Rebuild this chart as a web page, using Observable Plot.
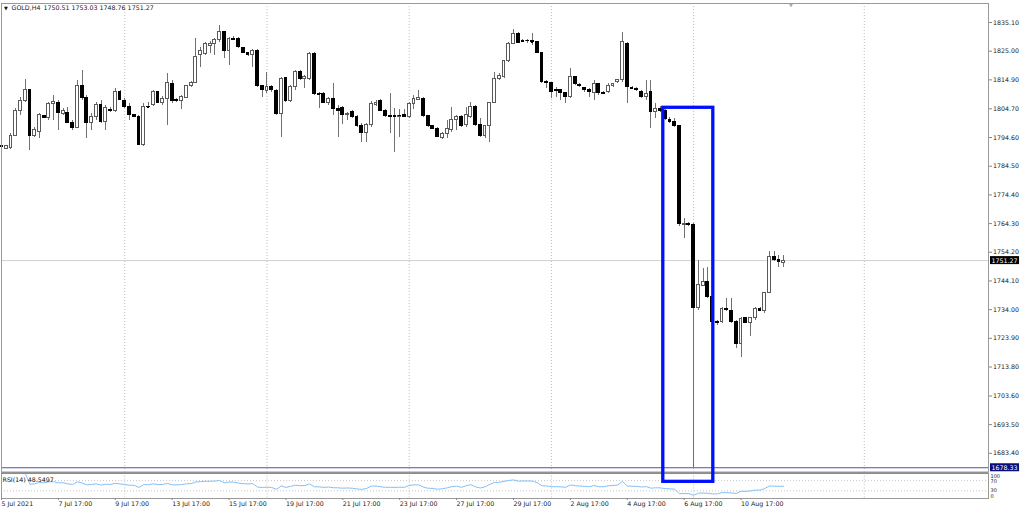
<!DOCTYPE html>
<html>
<head>
<meta charset="utf-8">
<script src="https://cdn.jsdelivr.net/npm/d3@7"></script>
<script src="https://cdn.jsdelivr.net/npm/@observablehq/plot@0.6"></script>
<style>
html, body { margin: 0; padding: 0; background: #fff; }
#chart { position: relative; width: 1024px; height: 509px; overflow: hidden; background: #fff; }
#chart svg { position: absolute; left: 0; overflow: visible; background: transparent; }
</style>
</head>
<body>
<div id="chart"></div>
<script>
// ---------------- data (GOLD, H4) ----------------
const symbolName = "GOLD,H4";
const opens = [
1791.5,1790.6,1791.0,1795.3,1804.1,1807.3,1811.5,1795.3,1796.7,1802.1,
1801.4,1806.5,1806.7,1803.0,1803.3,1799.6,1797.9,1812.6,1808.5,1799.7,
1802.0,1805.9,1800.0,1804.4,1803.9,1810.6,1807.6,1805.5,1802.4,1801.8,
1791.8,1805.5,1805.9,1810.6,1806.7,1808.2,1813.5,1807.9,1807.6,1808.6,
1812.6,1813.7,1823.5,1824.1,1827.0,1827.6,1828.8,1831.7,1825.2,1829.3,
1829.3,1826.1,1824.3,1823.7,1824.9,1812.6,1810.9,1812.3,1810.9,1803.0,
1815.5,1807.6,1812.3,1817.6,1815.3,1815.3,1824.1,1810.0,1809.8,1806.7,
1808.2,1804.7,1805.1,1802.4,1803.5,1801.8,1798.5,1796.3,1798.9,1806.2,
1807.3,1804.1,1802.1,1802.1,1802.0,1802.4,1801.8,1806.5,1807.9,1808.2,
1802.1,1798.5,1797.7,1794.5,1795.9,1797.1,1800.6,1801.8,1798.9,1801.8,
1805.5,1799.1,1795.3,1798.5,1806.7,1815.3,1815.9,1821.5,1827.6,1831.1,
1828.5,1828.5,1828.5,1828.2,1824.3,1814.3,1813.7,1811.4,1811.2,1810.2,
1808.8,1815.9,1813.2,1812.1,1811.4,1810.2,1813.5,1810.2,1810.6,1812.6,
1814.1,1814.7,1827.6,1812.1,1811.7,1810.8,1808.8,1810.6,1803.5,1804.7,
1804.1,1800.6,1800.0,1798.5,1763.7,1764.2,1763.7,1734.6,1742.2,1743.7,
1738.4,1729.6,1729.6,1734.3,1733.5,1729.6,1721.8,1731.0,1729.3,1731.0,
1734.3,1733.4,1739.9,1752.5,1751.3,1750.51];
const highs = [
1792.2,1791.8,1795.9,1804.7,1808.8,1814.9,1811.6,1798.0,1803.0,1802.4,
1807.1,1809.4,1807.6,1804.7,1805.3,1800.6,1814.7,1818.2,1809.4,1803.0,
1807.1,1807.6,1805.9,1805.3,1811.8,1811.2,1808.2,1806.5,1802.4,1802.4,
1806.5,1807.1,1811.2,1810.9,1809.1,1817.0,1814.7,1808.2,1809.4,1812.9,
1814.3,1829.3,1826.4,1828.2,1828.5,1829.3,1834.0,1831.9,1829.9,1830.2,
1829.9,1826.4,1824.6,1825.5,1825.5,1812.9,1817.6,1812.9,1811.4,1815.6,
1815.6,1812.9,1818.2,1818.2,1816.4,1824.7,1824.7,1810.6,1810.6,1808.8,
1813.7,1805.9,1805.5,1803.5,1804.1,1802.4,1799.4,1799.4,1807.4,1807.6,
1807.9,1804.4,1810.2,1804.7,1804.4,1804.4,1807.1,1809.4,1811.2,1808.6,
1802.4,1798.9,1798.0,1796.5,1800.6,1805.1,1802.4,1802.4,1805.3,1807.1,
1805.9,1801.2,1798.9,1807.1,1817.6,1817.0,1821.7,1828.2,1832.5,1831.7,
1829.0,1829.0,1831.1,1828.5,1824.7,1814.7,1814.1,1812.1,1811.4,1810.6,
1819.0,1816.1,1813.5,1812.3,1811.8,1814.7,1813.7,1810.9,1813.5,1813.7,
1815.0,1831.7,1828.2,1812.6,1812.1,1811.2,1814.7,1814.7,1806.5,1805.5,
1804.7,1801.8,1801.2,1798.8,1766.0,1764.8,1764.2,1751.3,1748.4,1748.8,
1739.0,1730.2,1734.9,1737.9,1737.9,1730.2,1731.4,1731.4,1731.4,1734.9,
1734.9,1740.2,1754.3,1754.3,1753.1,1753.03];
const lows = [
1790.8,1790.3,1790.5,1795.3,1802.4,1807.1,1790.1,1794.7,1794.2,1801.2,
1800.6,1800.6,1797.1,1802.4,1799.4,1797.1,1797.7,1807.6,1794.2,1797.1,
1800.6,1799.4,1797.1,1803.5,1803.5,1807.6,1804.7,1800.6,1801.5,1791.8,
1791.5,1804.7,1805.5,1806.5,1805.9,1798.9,1806.5,1807.0,1804.4,1808.2,
1812.3,1813.5,1819.4,1823.5,1824.1,1823.5,1828.2,1822.3,1820.0,1828.8,
1825.8,1824.1,1823.3,1819.4,1812.3,1808.8,1810.2,1810.6,1802.4,1794.7,
1807.1,1807.1,1811.2,1814.7,1811.8,1814.7,1809.4,1804.7,1806.5,1805.9,
1802.4,1794.7,1799.2,1800.6,1801.2,1798.0,1793.0,1793.0,1798.3,1805.5,
1803.9,1801.8,1795.9,1789.5,1794.7,1801.8,1801.2,1804.4,1807.6,1801.8,
1798.0,1797.3,1794.5,1793.8,1794.2,1796.5,1797.1,1798.3,1798.3,1801.2,
1798.5,1794.7,1794.2,1793.0,1806.5,1814.7,1815.3,1821.1,1827.2,1827.6,
1828.1,1827.8,1827.0,1824.1,1813.7,1811.8,1808.2,1808.8,1807.6,1806.5,
1808.2,1812.9,1812.1,1810.6,1808.8,1807.6,1809.4,1809.8,1810.0,1812.1,
1813.5,1814.1,1806.5,1811.4,1810.9,1808.2,1807.6,1797.7,1801.2,1803.5,
1800.6,1799.4,1798.3,1763.1,1759.0,1763.1,1678.3,1733.8,1742.0,1737.9,
1729.3,1728.5,1729.1,1733.2,1729.1,1720.3,1717.3,1729.1,1724.4,1730.2,
1733.2,1732.6,1739.6,1750.8,1749.0,1748.76];
const closes = [
1791.4,1791.5,1795.3,1804.1,1807.3,1811.2,1795.3,1797.1,1802.4,1801.5,
1806.5,1807.1,1803.2,1804.1,1799.8,1797.9,1812.8,1808.5,1799.7,1802.0,
1805.9,1800.0,1805.1,1803.9,1810.6,1807.9,1805.5,1802.4,1801.8,1792.0,
1805.5,1805.3,1810.6,1806.7,1808.2,1813.7,1807.6,1807.4,1808.8,1812.6,
1813.7,1823.1,1825.2,1827.4,1827.6,1828.8,1831.7,1825.2,1829.3,1829.1,
1826.4,1824.4,1823.7,1824.9,1812.9,1811.4,1812.3,1811.2,1803.0,1815.3,
1807.6,1812.3,1817.6,1815.3,1815.9,1824.1,1810.0,1809.8,1806.7,1808.2,
1804.7,1804.1,1802.4,1803.0,1801.8,1798.5,1796.3,1798.9,1806.5,1806.7,
1804.1,1802.1,1802.0,1801.9,1802.2,1801.8,1806.5,1808.2,1808.5,1802.1,
1798.5,1797.7,1794.7,1795.9,1797.7,1800.6,1801.8,1798.5,1802.4,1805.5,
1799.1,1795.3,1798.5,1806.7,1815.3,1816.1,1821.5,1827.4,1831.1,1827.8,
1828.3,1828.6,1828.2,1824.3,1814.3,1813.7,1810.8,1810.9,1810.2,1808.8,
1815.9,1813.5,1812.6,1811.4,1810.6,1813.5,1810.2,1810.0,1812.6,1813.3,
1814.7,1828.2,1812.3,1811.9,1811.2,1808.8,1810.0,1803.5,1804.7,1804.1,
1801.2,1800.4,1798.8,1764.0,1764.2,1763.7,1734.6,1742.6,1743.7,1738.4,
1729.6,1729.3,1734.3,1733.8,1729.6,1721.8,1730.8,1729.3,1731.0,1734.3,
1733.4,1739.9,1752.5,1751.3,1750.6,1751.27];

// time axis (bar index -> label)
const timeTickBars = [0, 12, 24, 36, 48, 60, 72, 84, 96, 108, 120, 132, 144, 156];
const timeTickLabels = ["5 Jul 2021", "7 Jul 17:00", "9 Jul 17:00", "13 Jul 17:00", "15 Jul 17:00",
  "19 Jul 17:00", "21 Jul 17:00", "23 Jul 17:00", "27 Jul 17:00", "29 Jul 17:00",
  "2 Aug 17:00", "4 Aug 17:00", "6 Aug 17:00", "10 Aug 17:00"];
// weekly vertical grid (bar index)
const gridBars = [26, 56, 86, 116, 146, 182];
// price scale labels
const priceTicks = [1835.10, 1825.00, 1814.90, 1804.70, 1794.60, 1784.50, 1774.40, 1764.30,
  1754.20, 1744.10, 1734.00, 1723.90, 1713.80, 1703.60, 1693.50, 1683.40];
const bidPrice = 1751.27;
const hLinePrice = 1678.33;
// highlighted area drawn over the chart (bar index from/to, price top/bottom)
const highlightFrom = [139.6];
const highlightTo = [150.15];
const highlightTop = [1805.07];
const highlightBottom = [1673.37];
// RSI
const rsiPeriod = 14;
const rsiLabel = "RSI(14) 48.5497";
const rsiLevels = [70, 30];
const rsiAxisLabels = [100, 70, 30, 0];
const shiftMarkerBar = 166.5;

// ---------------- layout ----------------
const FONT = "DejaVu Sans, Verdana, sans-serif";
const FS = 6.3;
const xDomain = [0, 208.2];
const HW = 0.3; // half body width in bars

const bars = closes.map((c, i) => ({i, o: opens[i], h: highs[i], l: lows[i], c, up: c >= opens[i]}));
const bulls = bars.filter(d => d.up);
const bears = bars.filter(d => !d.up);
const dojis = bars.filter(d => Math.abs(d.o - d.c) < 0.35);

function rsi(values, n) {
  const out = [null];
  let ag = 0, al = 0;
  for (let i = 1; i < values.length; i++) {
    const ch = values[i] - values[i - 1];
    const g = Math.max(ch, 0), l = Math.max(-ch, 0);
    const k = Math.min(i, n);
    ag = (ag * (k - 1) + g) / k;
    al = (al * (k - 1) + l) / k;
    out.push(al === 0 ? 100 : 100 - 100 / (1 + ag / al));
  }
  return out;
}
const rsiData = rsi(closes, rsiPeriod).map((v, i) => ({i, v}));
const highlight = highlightFrom.map((f, k) => ({from: f, to: highlightTo[k], top: highlightTop[k], bottom: highlightBottom[k]}));
const lastOHLC = [opens, highs, lows, closes].map(a => a[a.length - 1].toFixed(2)).join(" ");

const mainSvg = Plot.plot({
  width: 1024, height: 472,
  marginTop: 3, marginBottom: 0.5, marginLeft: 1, marginRight: 36,
  style: {background: "transparent", fontFamily: FONT, overflow: "visible", color: "#222"},
  x: {domain: xDomain, axis: null, label: null},
  y: {domain: [1676.83, 1841.79], axis: null, label: null},
  marks: [
    Plot.ruleX(gridBars, {x: d => d, stroke: "#bdbdbd", strokeDasharray: "1,2"}),
    Plot.ruleY([bidPrice], {y: d => d, stroke: "#d0d0d0"}),
    Plot.ruleY([hLinePrice], {y: d => d, stroke: "#5050b4"}),
    Plot.ruleX(bars, {x: "i", y1: "l", y2: "h", stroke: "#707070", shapeRendering: "crispEdges"}),
    Plot.rect(bulls, {x1: d => d.i - HW, x2: d => d.i + HW, y1: "o", y2: "c", fill: "#fff", stroke: "#5a5a5a", shapeRendering: "crispEdges"}),
    Plot.rect(bears, {x1: d => d.i - HW, x2: d => d.i + HW, y1: "o", y2: "c", fill: "#000", stroke: "#000", shapeRendering: "crispEdges"}),
    Plot.ruleY(dojis, {y: "c", x1: d => d.i - HW, x2: d => d.i + HW, stroke: "#000", shapeRendering: "crispEdges"}),
    Plot.frame({stroke: "#9a9a9a"}),
    Plot.axisY(priceTicks, {anchor: "right", label: null, tickSize: 3, tickPadding: 1.5, tickFormat: d => d.toFixed(2), fontSize: FS, stroke: "#888", fill: "#222"}),
    Plot.text([bidPrice], {y: d => d, text: d => d.toFixed(2), frameAnchor: "right", dx: 3, textAnchor: "start", fontSize: FS, fill: "#fff"}),
    Plot.text([hLinePrice], {y: d => d, text: d => d.toFixed(2), frameAnchor: "right", dx: 3, textAnchor: "start", fontSize: FS, fill: "#fff"}),
    Plot.text(["▼"], {frameAnchor: "top-left", dx: 2.5, dy: 4.5, lineAnchor: "middle", textAnchor: "start", fontSize: 5, fill: "#111"}),
    Plot.text([symbolName], {frameAnchor: "top-left", dx: 10, dy: 4.5, lineAnchor: "middle", textAnchor: "start", fontSize: FS, fill: "#222"}),
    Plot.text([lastOHLC], {frameAnchor: "top-left", dx: 42, dy: 4.5, lineAnchor: "middle", textAnchor: "start", fontSize: FS, fill: "#222"}),
    Plot.text(["▼"], {x: [shiftMarkerBar], frameAnchor: "top", dy: 1.5, lineAnchor: "middle", textAnchor: "middle", fontSize: 5, fill: "#a8a8a8"}),
    Plot.rect(highlight, {x1: "from", x2: "to", y1: "bottom", y2: "top", fill: "none", stroke: "#0010ff", strokeWidth: 3.3, clip: false})
  ]
});

const rsiSvg = Plot.plot({
  width: 1024, height: 37,
  marginTop: 0.5, marginBottom: 11, marginLeft: 1, marginRight: 36,
  style: {background: "transparent", fontFamily: FONT, overflow: "visible", color: "#222"},
  x: {domain: xDomain, axis: null, label: null},
  y: {domain: [0, 100], axis: null, label: null},
  marks: [
    Plot.ruleX(gridBars, {x: d => d, stroke: "#bdbdbd", strokeDasharray: "1,2"}),
    Plot.ruleY(rsiLevels, {y: d => d, stroke: "#c4c4c4", strokeDasharray: "1,2"}),
    Plot.line(rsiData.filter(d => d.v != null), {x: "i", y: "v", stroke: "#86c0f4", strokeWidth: 1}),
    Plot.frame({stroke: "#9a9a9a"}),
    Plot.ruleY([100], {y: d => d, stroke: "#8c8c8c", strokeWidth: 2}),
    Plot.axisX(timeTickBars, {anchor: "bottom", label: null, tickSize: 2, tickPadding: 1, textAnchor: "start",
      tickFormat: d => timeTickLabels[timeTickBars.indexOf(d)], fontSize: FS, stroke: "#888", fill: "#222"}),
    Plot.text([rsiAxisLabels[0]], {y: d => d, text: d => String(d), frameAnchor: "right", dx: 2, dy: 1.5, lineAnchor: "top", textAnchor: "start", fontSize: 5, fill: "#222"}),
    Plot.text([rsiAxisLabels[1]], {y: d => d, text: d => String(d), frameAnchor: "right", dx: 2, dy: 1, lineAnchor: "middle", textAnchor: "start", fontSize: 5, fill: "#222"}),
    Plot.text([rsiAxisLabels[2]], {y: d => d, text: d => String(d), frameAnchor: "right", dx: 2, dy: 0, lineAnchor: "middle", textAnchor: "start", fontSize: 5, fill: "#222"}),
    Plot.text([rsiAxisLabels[3]], {y: d => d, text: d => String(d), frameAnchor: "right", dx: 2, dy: -0.5, lineAnchor: "bottom", textAnchor: "start", fontSize: 5, fill: "#222"}),
    Plot.text([rsiLabel], {frameAnchor: "top-left", dx: 1, dy: 6.5, lineAnchor: "middle", textAnchor: "start", fontSize: FS, fill: "#222"})
  ]
});

const chart = document.getElementById("chart");
rsiSvg.style.top = "472px";
mainSvg.style.top = "0px";
chart.appendChild(rsiSvg);
chart.appendChild(mainSvg);

// label boxes behind the current-price and horizontal-line labels
const boxColors = {[bidPrice.toFixed(2)]: "#000000", [hLinePrice.toFixed(2)]: "#0c0c7a"};
d3.select(mainSvg).selectAll("text").each(function () {
  const t = this.textContent;
  if (!(t in boxColors)) return;
  const bb = this.getBBox();
  const r = document.createElementNS("http://www.w3.org/2000/svg", "rect");
  r.setAttribute("x", bb.x - 1.5);
  r.setAttribute("y", bb.y - 0.5);
  r.setAttribute("width", bb.width + 3);
  r.setAttribute("height", bb.height + 1);
  r.setAttribute("fill", boxColors[t]);
  const tr = this.getAttribute("transform");
  if (tr) r.setAttribute("transform", tr);
  this.parentNode.insertBefore(r, this);
});
</script>
</body>
</html>
